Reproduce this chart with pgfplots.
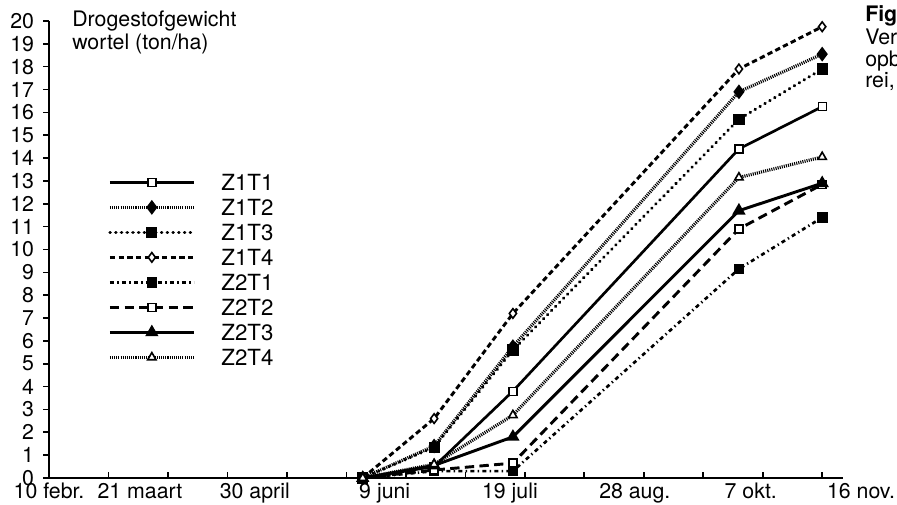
\documentclass[border=0pt]{standalone}
\usepackage{pgfplots}
\pgfplotsset{compat=1.18}
\usepackage{fontspec}
\setmainfont{TeX Gyre Heros}
\begin{document}
\fontsize{16}{19}\selectfont
\begin{tikzpicture}
\useasboundingbox (0,0) rectangle (672.75pt,378pt);
\begin{axis}[
  at={(36.75pt,19.5pt)}, anchor=south west,
  scale only axis, width=595.5pt, height=342.75pt,
  xmin=0, xmax=267, ymin=0, ymax=20,
  axis x line=bottom, axis y line=left,
  axis line style={-, line width=1.6pt},
  tick align=inside,
  major tick length=4.5pt,
  tick style={line width=1.2pt, black},
  xtick={20,40,...,260}, xticklabel=\empty,
  extra x ticks={0,30.6,69.2,112.9,155,197,236},
  extra x tick labels={10 febr.,21 maart,30 april,9 juni,19 juli,28 aug.,7 okt.},
  extra x tick style={major tick length=0pt, xticklabel style={anchor=north, inner sep=0pt, yshift=-3.5pt}},
  ytick={0,1,...,20},
  ytick style={xshift=-4.5pt},
  yticklabel style={anchor=east, inner sep=0pt, xshift=-11pt},
  /pgf/number format/assume math mode=true,
  clip=false,
  legend style={draw=none, fill=none, at={(axis description cs:0.0743,0.665)}, anchor=north west,
    inner sep=0pt, row sep=6.75pt, column sep=19.5pt, font=\fontsize{16.7}{20}\selectfont,
    nodes={inner sep=0pt, text height=12pt, text depth=0pt}},
  legend cell align=left,
  legend image code/.code={\draw[#1, mark repeat=2, mark phase=2] plot coordinates {(0pt,0pt)(31.5pt,0pt)(63pt,0pt)};},
  every axis plot/.append style={black, mark size=3pt},
]
% Z1T1
\addplot[line width=2pt, mark=square*, mark options={solid, fill=white, line width=1pt}]
  coordinates {(105.5,0) (129.5,0.5) (156,3.8) (232,14.4) (260,16.25)};
\addlegendentry{Z1T1}
% Z1T2
\addplot[line width=2.4pt, dash pattern=on 0.8pt off 0.8pt, mark=diamond*, mark size=3.6pt, mark options={solid}]
  coordinates {(105.5,0) (129.5,1.4) (156,5.75) (232,16.9) (260,18.55)};
\addlegendentry{Z1T2}
% Z1T3
\addplot[line width=2.4pt, line cap=round, dash pattern=on 0.3pt off 4pt, mark=square*, mark options={solid}]
  coordinates {(105.5,0) (129.5,1.35) (156,5.6) (232,15.7) (260,17.9)};
\addlegendentry{Z1T3}
% Z1T4
\addplot[line width=2.2pt, dash pattern=on 4pt off 2.5pt, mark=diamond*, mark size=3.6pt, mark options={solid, fill=white, line width=1.2pt}]
  coordinates {(105.5,0) (129.5,2.6) (156,7.2) (232,17.9) (260,19.75)};
\addlegendentry{Z1T4}
% Z2T1
\addplot[line width=2pt, dash pattern=on 3pt off 2.5pt on 1pt off 2.5pt, mark=square*, mark options={solid}]
  coordinates {(105.5,0) (129.5,0.3) (156,0.3) (232,9.15) (260,11.4)};
\addlegendentry{Z2T1}
% Z2T2
\addplot[line width=2.2pt, dash pattern=on 7pt off 4pt, mark=square*, mark options={solid, fill=white, line width=1.2pt}]
  coordinates {(105.5,0) (129.5,0.35) (156,0.65) (232,10.9) (260,12.85)};
\addlegendentry{Z2T2}
% Z2T3
\addplot[line width=2.2pt, mark=triangle*, mark size=3.6pt, mark options={solid}]
  coordinates {(105.5,0) (129.5,0.55) (156,1.8) (232,11.7) (260,12.9)};
\addlegendentry{Z2T3}
% Z2T4
\addplot[line width=2.4pt, dash pattern=on 0.8pt off 0.8pt, mark=triangle*, mark size=3.6pt, mark options={solid, fill=white, line width=1.2pt}]
  coordinates {(105.5,0) (129.5,0.6) (156,2.75) (232,13.15) (260,14.05)};
\addlegendentry{Z2T4}
\end{axis}
\node[anchor=north east, inner sep=0pt] at (671.5pt,16pt) {16 nov.};
\node[anchor=base west, inner sep=0pt] at (54pt,357.75pt) {Drogestofgewicht};
\node[anchor=base west, inner sep=0pt] at (54pt,340.5pt) {wortel (ton/ha)};
\node[anchor=base west, inner sep=0pt] at (648.75pt,361.5pt) {\bfseries Fig};
\node[anchor=base west, inner sep=0pt] at (648.75pt,344.25pt) {Ver};
\node[anchor=base west, inner sep=0pt] at (648.75pt,327.75pt) {opb};
\node[anchor=base west, inner sep=0pt] at (648.75pt,312pt) {rei,};
\end{tikzpicture}
\end{document}
